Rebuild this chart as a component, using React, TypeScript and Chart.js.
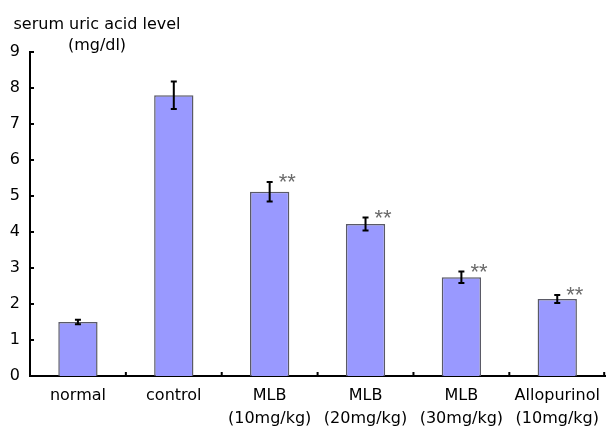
import React, { useEffect, useRef } from "react";
import { Chart, registerables } from "chart.js";

Chart.register(...registerables);

const categories: string[][] = [
  ["normal"],
  ["control"],
  ["MLB", "(10mg/kg)"],
  ["MLB", "(20mg/kg)"],
  ["MLB", "(30mg/kg)"],
  ["Allopurinol", "(10mg/kg)"],
];
const means: number[] = [1.5, 7.8, 5.12, 4.22, 2.74, 2.14];
const errors: number[] = [0.06, 0.38, 0.27, 0.18, 0.16, 0.11];
const marks: string[] = ["", "", "**", "**", "**", "**"];
const yTicks: number[] = [0, 1, 2, 3, 4, 5, 6, 7, 8, 9];
const titleLines: string[] = ["serum uric acid level", "(mg/dl)"];

const FONT = "'DejaVu Sans', 'Liberation Sans', Arial, sans-serif";

const extrasPlugin = {
  id: "extras",
  afterDatasetsDraw(chart: any) {
    const ctx = chart.ctx as CanvasRenderingContext2D;
    const yScale = chart.scales.y;
    const xScale = chart.scales.x;
    const meta = chart.getDatasetMeta(0);
    const area = chart.chartArea;
    ctx.save();
    // error bars
    meta.data.forEach((bar: any, i: number) => {
      const x = bar.x;
      const top = yScale.getPixelForValue(means[i] + errors[i]);
      const bot = yScale.getPixelForValue(means[i] - errors[i]);
      ctx.strokeStyle = "#000";
      ctx.lineWidth = 2;
      ctx.beginPath();
      ctx.moveTo(x, top);
      ctx.lineTo(x, bot);
      ctx.moveTo(x - 3, top);
      ctx.lineTo(x + 3, top);
      ctx.moveTo(x - 3, bot);
      ctx.lineTo(x + 3, bot);
      ctx.stroke();
      if (marks[i]) {
        ctx.fillStyle = "#6a6a6a";
        ctx.font = "22px 'Liberation Sans', Arial, sans-serif";
        ctx.textAlign = "left";
        ctx.textBaseline = "alphabetic";
        ctx.fillText(marks[i], x + 9, top + 7);
      }
    });
    // inward tick marks on y axis
    ctx.strokeStyle = "#000";
    ctx.lineWidth = 2;
    ctx.beginPath();
    yTicks.forEach((v) => {
      const py = Math.round(yScale.getPixelForValue(v));
      ctx.moveTo(area.left, py);
      ctx.lineTo(area.left + 4, py);
    });
    // tick marks between categories on x axis
    const step = xScale.getPixelForValue(1) - xScale.getPixelForValue(0);
    for (let i = 1; i <= categories.length; i++) {
      let px = xScale.getPixelForValue(i - 1) + step / 2;
      if (i === categories.length) px = Math.min(px, area.right - 1);
      ctx.moveTo(px, area.bottom);
      ctx.lineTo(px, area.bottom - 4);
    }
    ctx.stroke();
    // axis title
    ctx.fillStyle = "#000";
    ctx.font = "16px " + FONT;
    ctx.textAlign = "center";
    ctx.textBaseline = "alphabetic";
    ctx.fillText(titleLines[0], 97, 29);
    ctx.fillText(titleLines[1], 97, 50);
    ctx.restore();
  },
};

export default function App() {
  const ref = useRef<HTMLCanvasElement | null>(null);
  useEffect(() => {
    if (!ref.current) return;
    const chart = new Chart(ref.current, {
      type: "bar",
      data: {
        labels: categories,
        datasets: [
          {
            data: means,
            backgroundColor: "#9999ff",
            borderColor: "#5a5a66",
            borderWidth: 1.5,
            categoryPercentage: 1,
            barPercentage: 0.41,
          },
        ],
      },
      options: {
        animation: false,
        responsive: false,
        devicePixelRatio: 1,
        layout: { padding: { left: 0, right: 1, top: 52, bottom: 0 } },
        plugins: {
          legend: { display: false },
          tooltip: { enabled: false },
          title: { display: false },
        },
        scales: {
          x: {
            grid: { display: false, drawTicks: false },
            border: { display: true, color: "#000", width: 2 },
            ticks: {
              color: "#000",
              font: { family: FONT, size: 16, lineHeight: 1.4 },
              padding: 9,
              maxRotation: 0,
              autoSkip: false,
            },
            afterFit: (s: any) => {
              s.height = 51;
            },
          },
          y: {
            min: 0,
            max: 9,
            grid: { display: false, drawTicks: false },
            border: { display: true, color: "#000", width: 2 },
            ticks: {
              stepSize: 1,
              color: "#000",
              font: { family: FONT, size: 16 },
              padding: 10,
            },
            afterFit: (s: any) => {
              s.width = 30;
            },
          },
        },
      },
      plugins: [extrasPlugin],
    });
    return () => chart.destroy();
  }, []);
  return (
    <div style={{ position: "absolute", left: 0, top: 0, width: 609, height: 427, background: "#fff" }}>
      <canvas ref={ref} width={609} height={427} />
    </div>
  );
}
